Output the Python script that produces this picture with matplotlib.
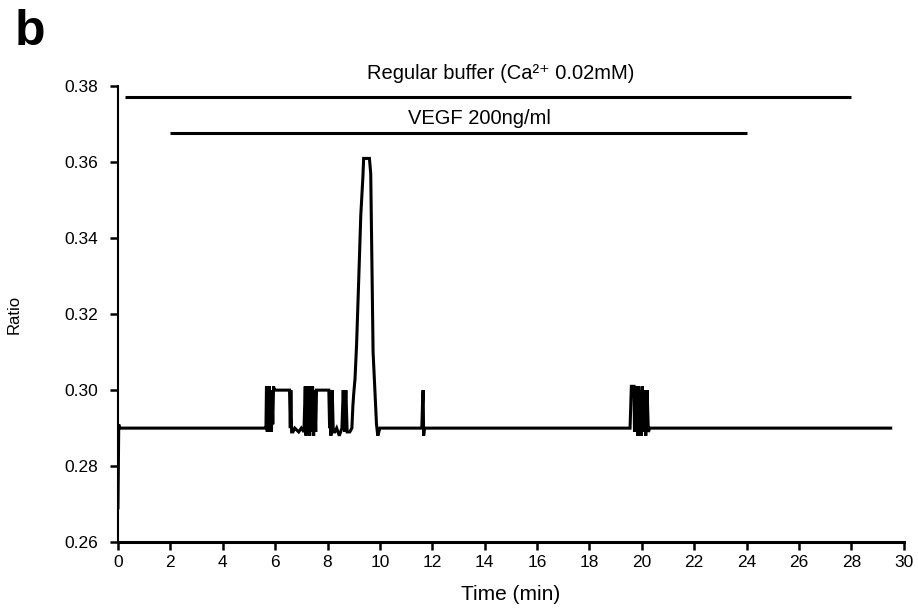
import matplotlib
matplotlib.use("Agg")
import matplotlib.pyplot as plt

# Ratio trace (time in min)
time_min = [0.00, 0.03, 0.05, 5.60, 5.65, 5.67, 5.70, 5.72, 5.75, 5.78, 5.80, 5.83,
            5.86, 5.88, 5.91, 5.94, 5.97, 6.00, 6.30, 6.55, 6.58, 6.60, 6.63, 6.68,
            6.75, 6.90, 7.00, 7.10, 7.15, 7.18, 7.22, 7.25, 7.28, 7.32, 7.35, 7.40,
            7.43, 7.47, 7.50, 7.55, 7.58, 7.90, 8.05, 8.08, 8.10, 8.13, 8.18, 8.22,
            8.28, 8.35, 8.45, 8.55, 8.60, 8.65, 8.70, 8.75, 8.85, 8.93, 8.97, 9.00,
            9.05, 9.11, 9.21, 9.27, 9.35, 9.38, 9.60, 9.65, 9.74, 9.87, 9.92, 10.00,
            11.60, 11.63, 11.65, 11.67, 11.70,
            19.55, 19.60, 19.70, 19.72, 19.75, 19.80, 19.85, 19.88, 19.92, 19.95,
            19.98, 20.02, 20.05, 20.10, 20.15, 20.20, 20.25, 20.30, 29.50]
ratio = [0.269, 0.291, 0.290, 0.290, 0.290, 0.301, 0.289, 0.300, 0.289, 0.301, 0.290, 0.300,
         0.289, 0.300, 0.291, 0.301, 0.300, 0.300, 0.300, 0.300, 0.290, 0.300, 0.289, 0.289,
         0.290, 0.289, 0.290, 0.289, 0.301, 0.288, 0.301, 0.289, 0.301, 0.288, 0.301, 0.289,
         0.301, 0.288, 0.300, 0.289, 0.300, 0.300, 0.300, 0.290, 0.300, 0.288, 0.300, 0.289,
         0.289, 0.290, 0.288, 0.290, 0.300, 0.289, 0.300, 0.289, 0.289, 0.290, 0.296, 0.299,
         0.303, 0.312, 0.333, 0.346, 0.356, 0.361, 0.361, 0.357, 0.310, 0.291, 0.288, 0.290,
         0.290, 0.297, 0.300, 0.288, 0.290,
         0.290, 0.301, 0.301, 0.289, 0.301, 0.300, 0.288, 0.301, 0.288, 0.300,
         0.288, 0.301, 0.289, 0.300, 0.288, 0.300, 0.289, 0.290, 0.290]

# Treatment bars: start, end, level
buffer_bar = (0.27, 28.0, 0.3771)
vegf_bar = (2.0, 24.0, 0.3676)

plt.rcParams['font.family'] = ['Liberation Sans', 'DejaVu Sans']

fig = plt.figure(figsize=(9.18, 6.16), dpi=100)
ax = fig.add_axes([0.1285, 0.120, 0.856, 0.740])

ax.plot(time_min, ratio, color='black', lw=2.2, solid_joinstyle='miter')
ax.hlines(buffer_bar[2], buffer_bar[0], buffer_bar[1], color='black', lw=2.2)
ax.hlines(vegf_bar[2], vegf_bar[0], vegf_bar[1], color='black', lw=2.2)
ax.text(14.6, 0.3834, 'Regular buffer (Ca²⁺ 0.02mM)', ha='center', va='center', fontsize=14.5)
ax.text(13.8, 0.3716, 'VEGF 200ng/ml', ha='center', va='center', fontsize=14.5)

ax.set_xlim(0, 30)
ax.set_ylim(0.26, 0.38)
ax.set_xticks(range(0, 31, 2))
ax.set_yticks([0.26, 0.28, 0.30, 0.32, 0.34, 0.36, 0.38])
ax.set_yticklabels(['0.26', '0.28', '0.30', '0.32', '0.34', '0.36', '0.38'])
ax.spines['top'].set_visible(False)
ax.spines['right'].set_visible(False)
ax.spines['left'].set_linewidth(1.5)
ax.spines['bottom'].set_linewidth(2.2)
ax.tick_params(axis='both', direction='out', length=6, width=1.8, labelsize=12.5, colors='black')
ax.tick_params(axis='x', pad=3)
ax.tick_params(axis='y', pad=8)
ax.set_xlabel('Time (min)', fontsize=15)
ax.xaxis.set_label_coords(0.5, -0.095)
ax.set_ylabel('Ratio', fontsize=12)
ax.yaxis.set_label_coords(-0.122, 0.5)

fig.text(0.016, 0.985, 'b', fontsize=36, fontweight='bold', va='top', ha='left')

fig.savefig('out.png', dpi=100)
